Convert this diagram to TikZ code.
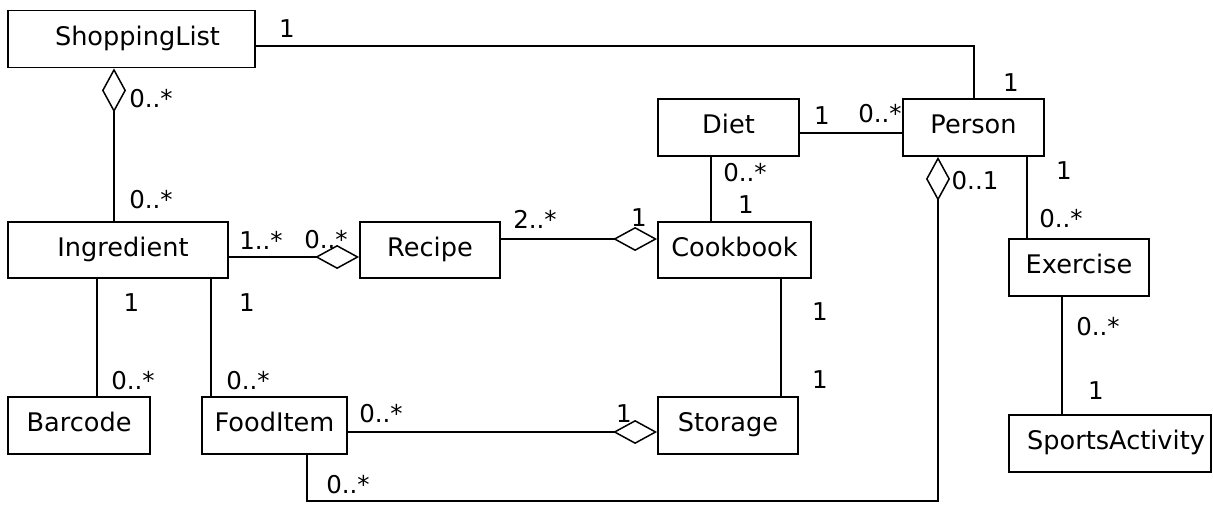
\documentclass[tikz,border=0pt]{standalone}
\usepackage{fontspec}
\setmainfont{DejaVu Sans}
\usetikzlibrary{arrows.meta}
\begin{document}
\begin{tikzpicture}[x=1pt,y=-1pt,
  cls/.style={draw, line width=1.8pt, inner sep=0pt, minimum height=57pt,
    font=\fontsize{25.6}{30}\selectfont, text height=18.8pt, text depth=6pt},
  mult/.style={inner sep=0pt, font=\fontsize{24.5}{29}\selectfont},
  assoc/.style={line width=1.5pt},
  agg/.style={line width=1.5pt, -{Diamond[open, length=44pt, width=24pt]}}]
\useasboundingbox (0,0) rectangle (1213,505);

% classes
\node[cls, minimum width=247pt] (shop) at (131.5,39) {\hspace*{12pt}ShoppingList};
\node[cls, minimum width=141pt] (diet) at (728.5,127.5) {Diet};
\node[cls, minimum width=141pt] (person) at (973.5,127.5) {Person};
\node[cls, minimum width=220pt, minimum height=56pt] (ingr) at (118,250) {\hspace*{10pt}Ingredient};
\node[cls, minimum width=140pt, minimum height=56pt] (recipe) at (430,250) {Recipe};
\node[cls, minimum width=153pt, minimum height=56pt] (cook) at (734.5,250) {Cookbook};
\node[cls, minimum width=140pt] (exer) at (1079,267.5) {Exercise};
\node[cls, minimum width=142pt] (barcode) at (79,425.5) {Barcode};
\node[cls, minimum width=145pt] (food) at (274.5,425.5) {FoodItem};
\node[cls, minimum width=140pt] (storage) at (728,425.5) {Storage};
\node[cls, minimum width=202pt] (sports) at (1110,443.5) {\hspace*{12pt}SportsActivity};

% associations
\draw[assoc] (shop.east |- 0,46) -| (person.north -| 974,0);
\draw[agg] (ingr.north -| 114,0) -- (shop.south -| 114,0);
\draw[agg] (ingr.east |- 0,257) -- (recipe.west |- 0,257);
\draw[agg] (recipe.east |- 0,239) -- (cook.west |- 0,239);
\draw[assoc] (diet.east |- 0,133) -- (person.west |- 0,133);
\draw[assoc] (diet.south -| 711,0) -- (cook.north -| 711,0);
\draw[assoc] (person.south -| 1027,0) -- (exer.north -| 1027,0);
\draw[assoc] (exer.south -| 1062,0) -- (sports.north -| 1062,0);
\draw[assoc] (ingr.south -| 97,0) -- (barcode.north -| 97,0);
\draw[assoc] (ingr.south -| 211,0) -- (food.north -| 211,0);
\draw[assoc] (cook.south -| 781,0) -- (storage.north -| 781,0);
\draw[agg] (food.east |- 0,432) -- (storage.west |- 0,432);
\draw[agg] (food.south -| 307,0) |- (938,501) -- (person.south -| 938,0);

% multiplicities
\node[mult] (m1) at (287,29) {1};
\node[mult] (m2) at (1011,83) {1};
\node[mult] (m3) at (151,99) {0..*};
\node[mult] (m4) at (151,200) {0..*};
\node[mult] (m5) at (822,116) {1};
\node[mult] (m6) at (880,114) {0..*};
\node[mult] (m7) at (745,173) {0..*};
\node[mult] (m8) at (746,205) {1};
\node[mult] (m9) at (975,181) {0..1};
\node[mult] (m10) at (1064,171) {1};
\node[mult] (m11) at (1061,219) {0..*};
\node[mult] (m12) at (261,240) {1..*};
\node[mult] (m13) at (326,240) {0..*};
\node[mult] (m14) at (535,219) {2..*};
\node[mult] (m15) at (639,218) {1};
\node[mult] (m16) at (131.5,303) {1};
\node[mult] (m17) at (247,303) {1};
\node[mult] (m18) at (133,381) {0..*};
\node[mult] (m19) at (248,381) {0..*};
\node[mult] (m20) at (820,312) {1};
\node[mult] (m21) at (820,380) {1};
\node[mult] (m22) at (1098,327) {0..*};
\node[mult] (m23) at (1096,391) {1};
\node[mult] (m24) at (381,414) {0..*};
\node[mult] (m25) at (624,414) {1};
\node[mult] (m26) at (348,485) {0..*};
\end{tikzpicture}
\end{document}
